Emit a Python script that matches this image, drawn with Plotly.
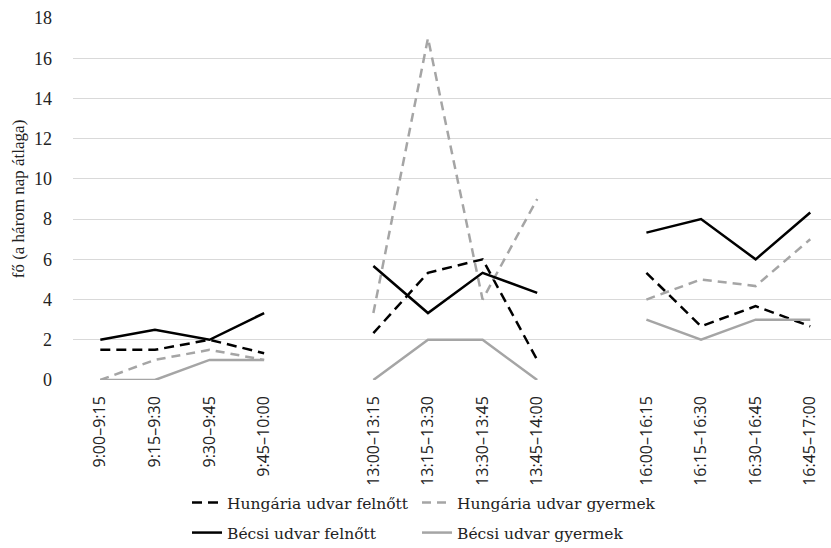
import plotly.graph_objects as go

categories = ["9:00–9:15", "9:15–9:30", "9:30–9:45", "9:45–10:00", " ",
              "13:00–13:15", "13:15–13:30", "13:30–13:45", "13:45–14:00", "  ",
              "16:00–16:15", "16:15–16:30", "16:30–16:45", "16:45–17:00"]

hung_felnott = [1.5, 1.5, 2, 1.33, None, 2.33, 5.33, 6, 1, None, 5.33, 2.67, 3.67, 2.67]
hung_gyermek = [0, 1, 1.5, 1, None, 3.33, 17, 4, 9, None, 4, 5, 4.67, 7]
becs_felnott = [2, 2.5, 2, 3.33, None, 5.67, 3.33, 5.33, 4.33, None, 7.33, 8, 6, 8.33]
becs_gyermek = [0, 0, 1, 1, None, 0, 2, 2, 0, None, 3, 2, 3, 3]

y_ticks = [0, 2, 4, 6, 8, 10, 12, 14, 16, 18]

BLACK = "#000000"
GRAY = "#a5a5a5"

fig = go.Figure()
fig.add_trace(go.Scatter(x=categories, y=hung_felnott, mode="lines", name="Hungária udvar felnőtt",
                         line=dict(color=BLACK, width=2.5, dash="10px,6px"), legend="legend"))
fig.add_trace(go.Scatter(x=categories, y=hung_gyermek, mode="lines", name="Hungária udvar gyermek",
                         line=dict(color=GRAY, width=2.5, dash="9px,6px"), legend="legend2"))
fig.add_trace(go.Scatter(x=categories, y=becs_felnott, mode="lines", name="Bécsi udvar felnőtt",
                         line=dict(color=BLACK, width=2.5), legend="legend3"))
fig.add_trace(go.Scatter(x=categories, y=becs_gyermek, mode="lines", name="Bécsi udvar gyermek",
                         line=dict(color=GRAY, width=2.5), legend="legend4"))

serif = "Liberation Serif"
legend_common = dict(orientation="h", xanchor="left", yanchor="middle",
                     font=dict(family="DejaVu Serif", size=15.5, color="#222"),
                     bgcolor="rgba(0,0,0,0)", itemwidth=30,
                     xref="container", yref="container")

fig.update_layout(
    width=831, height=548,
    margin=dict(l=73, r=0, t=18, b=168, autoexpand=False),
    paper_bgcolor="white", plot_bgcolor="white",
    showlegend=True,
    legend=dict(**legend_common, x=187 / 831, y=1 - 503 / 548),
    legend2=dict(**legend_common, x=417 / 831, y=1 - 503 / 548),
    legend3=dict(**legend_common, x=187 / 831, y=1 - 533 / 548),
    legend4=dict(**legend_common, x=417 / 831, y=1 - 533 / 548),
    xaxis=dict(type="category", categoryorder="array", categoryarray=categories,
               range=[-0.5, 13.38], showgrid=False, zeroline=False, showline=False,
               tickangle=-90, ticks="", ticklabelstandoff=12, automargin=False,
               tickfont=dict(family="Open Sans", size=16, color="#222")),
    yaxis=dict(range=[0, 18], tickvals=y_ticks, showgrid=True, gridcolor="#d9d9d9", gridwidth=1,
               zeroline=False, showline=False, ticks="", ticklabelstandoff=20, automargin=False,
               tickfont=dict(family=serif, size=18, color="#222"),
               title=dict(text="fő (a három nap átlaga)", font=dict(family=serif, size=17, color="#222"),
                          standoff=5)),
)

fig.write_html("out.html", post_script="document.body.style.margin='0';",
               config={"displayModeBar": False})
